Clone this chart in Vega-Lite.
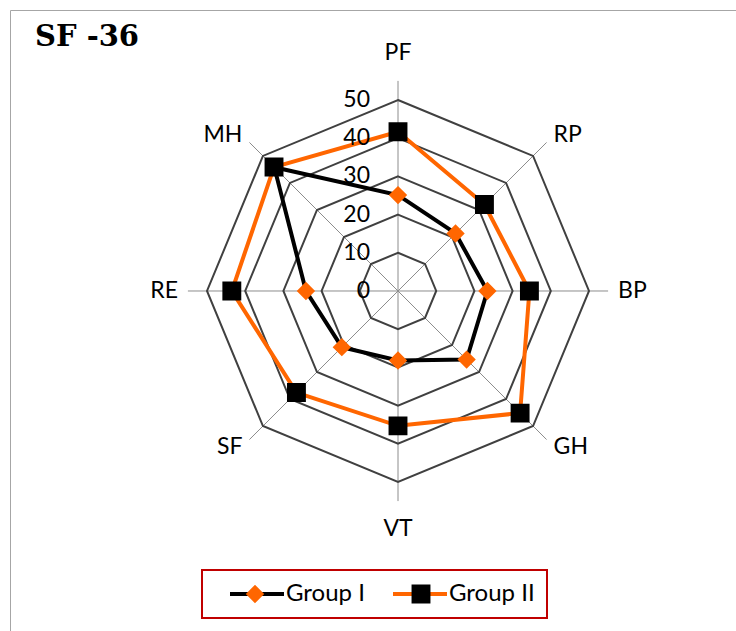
{
  "$schema": "https://vega.github.io/schema/vega-lite/v6.json",
  "width": 726,
  "height": 621,
  "autosize": {"type": "none"},
  "padding": {"left": 10, "top": 10, "right": 0, "bottom": 0},
  "background": "white",
  "config": {"view": {"stroke": "#a6a6a6", "strokeWidth": 1}},
  "title": {"text": "SF -36", "font": "DejaVu Serif", "fontWeight": "bold", "fontSize": 29, "color": "#000000", "anchor": "start", "frame": "group", "offset": -37, "baseline": "alphabetic", "dx": 25, "dy": 28},
  "datasets": {
    "scores": [
      {"axis": "PF", "group": "Group I", "value": 25.1},
      {"axis": "RP", "group": "Group I", "value": 21.3},
      {"axis": "BP", "group": "Group I", "value": 23.4},
      {"axis": "GH", "group": "Group I", "value": 25.4},
      {"axis": "VT", "group": "Group I", "value": 18.2},
      {"axis": "SF", "group": "Group I", "value": 20.8},
      {"axis": "RE", "group": "Group I", "value": 24.1},
      {"axis": "MH", "group": "Group I", "value": 45.8},
      {"axis": "PF", "group": "Group II", "value": 41.7},
      {"axis": "RP", "group": "Group II", "value": 32.0},
      {"axis": "BP", "group": "Group II", "value": 34.4},
      {"axis": "GH", "group": "Group II", "value": 45.2},
      {"axis": "VT", "group": "Group II", "value": 35.3},
      {"axis": "SF", "group": "Group II", "value": 37.6},
      {"axis": "RE", "group": "Group II", "value": 43.5},
      {"axis": "MH", "group": "Group II", "value": 45.9}
    ],
    "axes": [
      {"axis": "PF"}, {"axis": "RP"}, {"axis": "BP"}, {"axis": "GH"},
      {"axis": "VT"}, {"axis": "SF"}, {"axis": "RE"}, {"axis": "MH"}
    ],
    "rings": [
      {"axis": "PF", "levels": [10, 20, 30, 40, 50]},
      {"axis": "RP", "levels": [10, 20, 30, 40, 50]},
      {"axis": "BP", "levels": [10, 20, 30, 40, 50]},
      {"axis": "GH", "levels": [10, 20, 30, 40, 50]},
      {"axis": "VT", "levels": [10, 20, 30, 40, 50]},
      {"axis": "SF", "levels": [10, 20, 30, 40, 50]},
      {"axis": "RE", "levels": [10, 20, 30, 40, 50]},
      {"axis": "MH", "levels": [10, 20, 30, 40, 50]}
    ],
    "ticks": [
      {"level": 0}, {"level": 10}, {"level": 20}, {"level": 30}, {"level": 40}, {"level": 50}
    ]
  },
  "encoding": {
    "x": {"field": "px", "type": "quantitative", "scale": {"domain": [-101.57, 88.48], "nice": false, "zero": false}, "axis": null},
    "y": {"field": "py", "type": "quantitative", "scale": {"domain": [-89.01, 73.56], "nice": false, "zero": false}, "axis": null}
  },
  "layer": [
    {
      "data": {"name": "axes"},
      "transform": [
        {"calculate": "indexof(['PF','RP','BP','GH','VT','SF','RE','MH'], datum.axis)", "as": "order"},
        {"calculate": "55*sin(datum.order*PI/4)", "as": "px"},
        {"calculate": "55*cos(datum.order*PI/4)", "as": "py"}
      ],
      "mark": {"type": "rule", "color": "#8c8c8c", "strokeWidth": 1},
      "encoding": {"x2": {"datum": 0}, "y2": {"datum": 0}}
    },
    {
      "data": {"name": "rings"},
      "transform": [
        {"flatten": ["levels"], "as": ["level"]},
        {"calculate": "indexof(['PF','RP','BP','GH','VT','SF','RE','MH'], datum.axis)", "as": "order"},
        {"calculate": "datum.level*sin(datum.order*PI/4)", "as": "px"},
        {"calculate": "datum.level*cos(datum.order*PI/4)", "as": "py"}
      ],
      "mark": {"type": "line", "interpolate": "linear-closed", "color": "#404040", "strokeWidth": 2},
      "encoding": {
        "detail": {"field": "level", "type": "nominal"},
        "order": {"field": "order", "type": "quantitative"}
      }
    },
    {
      "data": {"name": "scores"},
      "transform": [
        {"calculate": "indexof(['PF','RP','BP','GH','VT','SF','RE','MH'], datum.axis)", "as": "order"},
        {"calculate": "datum.value*sin(datum.order*PI/4)", "as": "px"},
        {"calculate": "datum.value*cos(datum.order*PI/4)", "as": "py"}
      ],
      "mark": {"type": "line", "interpolate": "linear-closed", "strokeWidth": 4},
      "encoding": {
        "stroke": {
          "field": "group", "type": "nominal",
          "scale": {"domain": ["Group I", "Group II"], "range": ["#000000", "#ff6600"]},
          "legend": {
            "orient": "none", "legendX": 192, "legendY": 560, "direction": "horizontal", "title": null,
            "symbolType": "stroke", "symbolSize": 2916, "symbolStrokeWidth": 4, "symbolOffset": 14, "clipHeight": 24,
            "labelFont": "Lato", "labelFontSize": 24, "labelColor": "#000000", "labelOffset": 0,
            "columnPadding": 12, "padding": 12, "zindex": 1, "strokeColor": "#c00000",
            "encode": {"legend": {"update": {"strokeWidth": {"value": 2}}}}
          }
        },
        "order": {"field": "order", "type": "quantitative"}
      }
    },
    {
      "data": {"name": "scores"},
      "transform": [
        {"calculate": "indexof(['PF','RP','BP','GH','VT','SF','RE','MH'], datum.axis)", "as": "order"},
        {"calculate": "datum.value*sin(datum.order*PI/4)", "as": "px"},
        {"calculate": "datum.value*cos(datum.order*PI/4)", "as": "py"}
      ],
      "mark": {"type": "point", "filled": true, "size": 2916, "strokeWidth": 0, "opacity": 1},
      "encoding": {
        "fill": {
          "field": "group", "type": "nominal",
          "scale": {"range": ["#ff6600", "#000000"]},
          "legend": {
            "orient": "none", "legendX": 192, "legendY": 560, "direction": "horizontal", "title": null,
            "symbolSize": 2916, "symbolStrokeWidth": 0, "symbolStrokeColor": "transparent", "symbolOffset": 14, "clipHeight": 24,
            "labelFont": "Lato", "labelFontSize": 24, "labelOffset": 0, "labelExpr": "''",
            "columnPadding": 98, "padding": 12, "zindex": 2
          }
        },
        "shape": {
          "field": "group", "type": "nominal",
          "scale": {"range": ["M-1,0H1M0,-0.34L0.34,0L0,0.34L-0.34,0Z", "M-1,0H1M-0.35,-0.35H0.35V0.35H-0.35Z"]},
          "legend": {
            "orient": "none", "legendX": 192, "legendY": 560, "direction": "horizontal", "title": null,
            "symbolSize": 2916, "symbolStrokeWidth": 0, "symbolStrokeColor": "transparent", "symbolOffset": 14, "clipHeight": 24,
            "labelFont": "Lato", "labelFontSize": 24, "labelOffset": 0, "labelExpr": "''",
            "columnPadding": 98, "padding": 12, "zindex": 2
          }
        }
      }
    },
    {
      "data": {"name": "axes"},
      "transform": [
        {"calculate": "indexof(['PF','RP','BP','GH','VT','SF','RE','MH'], datum.axis)", "as": "order"},
        {"filter": "datum.order == 0 || datum.order == 4"},
        {"calculate": "62.2*sin(datum.order*PI/4)", "as": "px"},
        {"calculate": "62.2*cos(datum.order*PI/4)", "as": "py"}
      ],
      "mark": {"type": "text", "align": "center", "baseline": "middle", "font": "Lato", "fontSize": 23, "color": "#000000"},
      "encoding": {"text": {"field": "axis", "type": "nominal"}}
    },
    {
      "data": {"name": "axes"},
      "transform": [
        {"calculate": "indexof(['PF','RP','BP','GH','VT','SF','RE','MH'], datum.axis)", "as": "order"},
        {"filter": "datum.order >= 1 && datum.order <= 3"},
        {"calculate": "57.6*sin(datum.order*PI/4)", "as": "px"},
        {"calculate": "57.6*cos(datum.order*PI/4)", "as": "py"}
      ],
      "mark": {"type": "text", "align": "left", "baseline": "middle", "font": "Lato", "fontSize": 23, "color": "#000000"},
      "encoding": {"text": {"field": "axis", "type": "nominal"}}
    },
    {
      "data": {"name": "axes"},
      "transform": [
        {"calculate": "indexof(['PF','RP','BP','GH','VT','SF','RE','MH'], datum.axis)", "as": "order"},
        {"filter": "datum.order >= 5"},
        {"calculate": "57.6*sin(datum.order*PI/4)", "as": "px"},
        {"calculate": "57.6*cos(datum.order*PI/4)", "as": "py"}
      ],
      "mark": {"type": "text", "align": "right", "baseline": "middle", "font": "Lato", "fontSize": 23, "color": "#000000"},
      "encoding": {"text": {"field": "axis", "type": "nominal"}}
    },
    {
      "data": {"name": "ticks"},
      "transform": [
        {"calculate": "0", "as": "px"},
        {"calculate": "datum.level", "as": "py"}
      ],
      "mark": {"type": "text", "align": "right", "baseline": "middle", "dx": -28, "font": "Lato", "fontSize": 23, "color": "#000000"},
      "encoding": {"text": {"field": "level", "type": "quantitative"}}
    }
  ]
}
